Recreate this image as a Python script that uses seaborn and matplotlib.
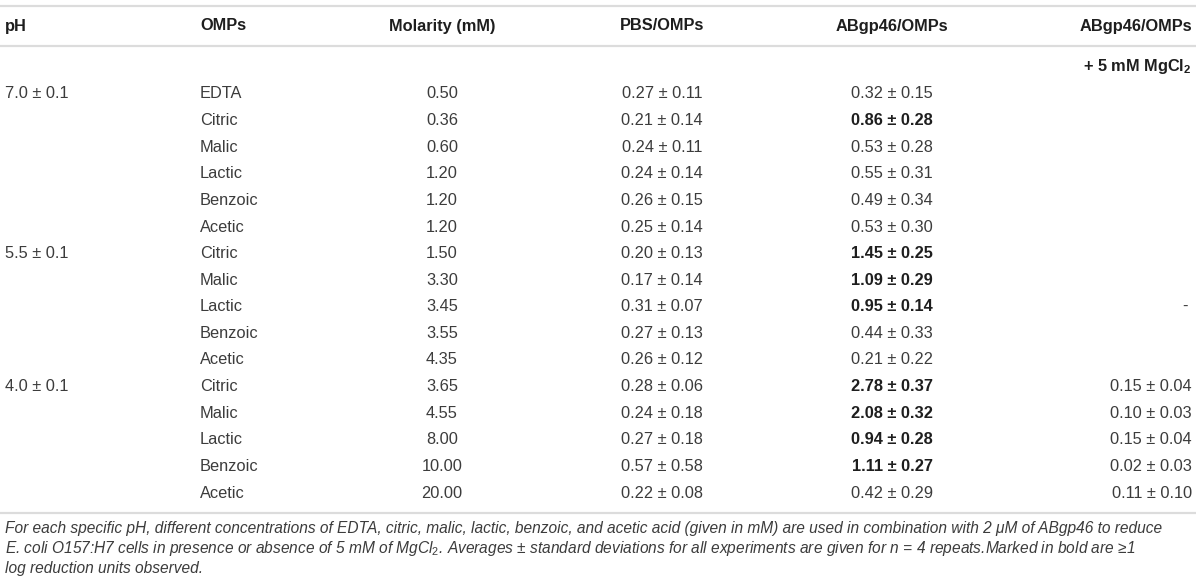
import matplotlib
matplotlib.use('Agg')
import matplotlib.pyplot as plt
import seaborn as sns

# table content
ph_labels = ['7.0 ± 0.1', '5.5 ± 0.1', '4.0 ± 0.1']
ph_first_row = [0, 6, 11]
omps = ['EDTA', 'Citric', 'Malic', 'Lactic', 'Benzoic', 'Acetic',
        'Citric', 'Malic', 'Lactic', 'Benzoic', 'Acetic',
        'Citric', 'Malic', 'Lactic', 'Benzoic', 'Acetic']
molarity = [0.50, 0.36, 0.60, 1.20, 1.20, 1.20,
            1.50, 3.30, 3.45, 3.55, 4.35,
            3.65, 4.55, 8.00, 10.00, 20.00]
pbs_mean = [0.27, 0.21, 0.24, 0.24, 0.26, 0.25,
            0.20, 0.17, 0.31, 0.27, 0.26,
            0.28, 0.24, 0.27, 0.57, 0.22]
pbs_sd = [0.11, 0.14, 0.11, 0.14, 0.15, 0.14,
          0.13, 0.14, 0.07, 0.13, 0.12,
          0.06, 0.18, 0.18, 0.58, 0.08]
ab_mean = [0.32, 0.86, 0.53, 0.55, 0.49, 0.53,
           1.45, 1.09, 0.95, 0.44, 0.21,
           2.78, 2.08, 0.94, 1.11, 0.42]
ab_sd = [0.15, 0.28, 0.28, 0.31, 0.34, 0.30,
         0.25, 0.29, 0.14, 0.33, 0.22,
         0.37, 0.32, 0.28, 0.27, 0.29]
ab_bold = [False, True, False, False, False, False,
           True, True, True, False, False,
           True, True, True, True, False]
mg_mean = [None] * 11 + [0.15, 0.10, 0.15, 0.02, 0.11]
mg_sd = [None] * 11 + [0.04, 0.03, 0.04, 0.03, 0.10]
mg_dash_row = 8

headers = ['pH', 'OMPs', 'Molarity (mM)', 'PBS/OMPs', 'ABgp46/OMPs', 'ABgp46/OMPs']

footnote = [
    'For each specific pH, different concentrations of EDTA, citric, malic, lactic, benzoic, and acetic acid '
    '(given in mM) are used in combination with 2 μM of ABgp46 to reduce',
    'E. coli O157:H7 cells in presence or absence of 5 mM of MgCl$_2$. Averages ± standard deviations for all '
    'experiments are given for n = 4 repeats.Marked in bold are ≥1',
    'log reduction units observed.',
]

sns.set_theme(style='white')
plt.rcParams['font.family'] = ['Liberation Sans', 'DejaVu Sans']
plt.rcParams['mathtext.fontset'] = 'custom'
plt.rcParams['mathtext.rm'] = 'Liberation Sans'
plt.rcParams['mathtext.it'] = 'Liberation Sans:italic'
plt.rcParams['mathtext.bf'] = 'Liberation Sans:bold'

fig = plt.figure(figsize=(12, 5.86), dpi=100)
ax = fig.add_axes([0, 0, 1, 1])
ax.set_xlim(0, 1200)
ax.set_ylim(586, 0)
ax.axis('off')

body = '#3c3c3c'
head = '#1e1e1e'
rule = '#dcdcdc'
fs = 11.8

# column anchors (x, alignment)
cols = [(5, 'left'), (200, 'left'), (442, 'center'), (662, 'center'), (892, 'center'), (1192, 'right')]

for y in (6, 46, 513):
    ax.plot([0, 1196], [y, y], color=rule, lw=1.6, solid_capstyle='butt')

for (x, ha), h in zip(cols, headers):
    ax.text(x, 26, h, ha=ha, va='center', fontsize=fs, fontweight='bold', color=head)
ax.text(1192, 66, r'+ 5 mM MgCl$_\mathbf{2}$', ha='right', va='center', fontsize=fs,
        fontweight='bold', color=head)

row0, row_h = 94, 26.6
for lab, r in zip(ph_labels, ph_first_row):
    ax.text(cols[0][0], row0 + r * row_h, lab, ha='left', va='center', fontsize=fs, color=body)

for i in range(len(omps)):
    y = row0 + i * row_h
    ax.text(cols[1][0], y, omps[i], ha='left', va='center', fontsize=fs, color=body)
    ax.text(cols[2][0], y, f'{molarity[i]:.2f}', ha='center', va='center', fontsize=fs, color=body)
    ax.text(cols[3][0], y, f'{pbs_mean[i]:.2f} ± {pbs_sd[i]:.2f}', ha='center', va='center',
            fontsize=fs, color=body)
    ax.text(cols[4][0], y, f'{ab_mean[i]:.2f} ± {ab_sd[i]:.2f}', ha='center', va='center',
            fontsize=fs, color=head if ab_bold[i] else body,
            fontweight='bold' if ab_bold[i] else 'normal')
    if mg_mean[i] is not None:
        ax.text(cols[5][0], y, f'{mg_mean[i]:.2f} ± {mg_sd[i]:.2f}', ha='right', va='center',
                fontsize=fs, color=body)
    elif i == mg_dash_row:
        ax.text(1188, y, '-', ha='right', va='center', fontsize=fs, color=body)

for k, line in enumerate(footnote):
    ax.text(5, 529 + k * 19.5, line, ha='left', va='center', fontsize=11.2,
            style='italic', color=body)

fig.savefig('out.png', dpi=100)
